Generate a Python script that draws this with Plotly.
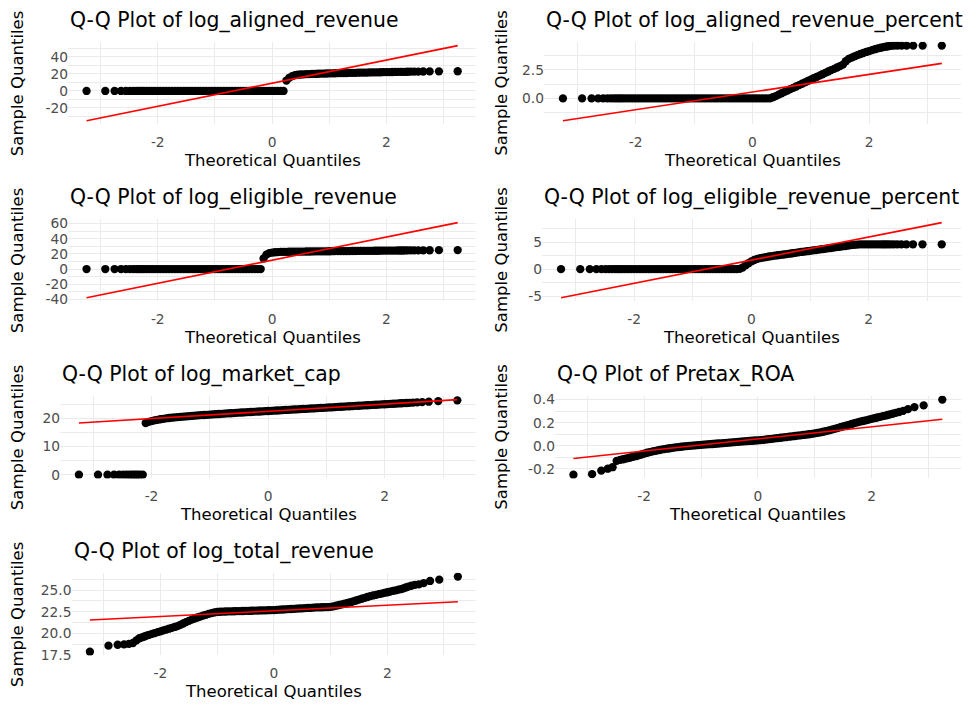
import plotly.graph_objects as go

# ---------------- data ----------------
# theoretical normal quantiles (shared by every panel)
THEORETICAL_Q = [
    -3.245, -2.917, -2.755, -2.642, -2.556, -2.485, -2.425, -2.372, -2.326, -2.284, -2.245,
    -2.20, -2.15, -2.10, -2.05, -2.00, -1.95, -1.90, -1.85, -1.80, -1.75,
    -1.70, -1.65, -1.60, -1.55, -1.50, -1.45, -1.40, -1.35, -1.30, -1.25,
    -1.20, -1.15, -1.10, -1.05, -1.00, -0.95, -0.90, -0.85, -0.80, -0.75,
    -0.70, -0.65, -0.60, -0.55, -0.50, -0.45, -0.40, -0.35, -0.30, -0.25,
    -0.20, -0.15, -0.10, -0.05, 0.00, 0.05, 0.10, 0.15, 0.20, 0.25,
    0.30, 0.35, 0.40, 0.45, 0.50, 0.55, 0.60, 0.65, 0.70, 0.75,
    0.80, 0.85, 0.90, 0.95, 1.00, 1.05, 1.10, 1.15, 1.20, 1.25,
    1.30, 1.35, 1.40, 1.45, 1.50, 1.55, 1.60, 1.65, 1.70, 1.75,
    1.80, 1.85, 1.90, 1.95, 2.00, 2.05, 2.10, 2.15, 2.20,
    2.245, 2.284, 2.326, 2.372, 2.425, 2.485, 2.556, 2.642, 2.755, 2.917, 3.245,
]

# sample quantiles, one list per variable
log_aligned_revenue = [
    0, 0, 0, 0, 0, 0, 0, 0, 0, 0, 0,
    0, 0, 0, 0, 0, 0, 0, 0, 0, 0, 0, 0, 0, 0, 0, 0, 0, 0, 0, 0,
    0, 0, 0, 0, 0, 0, 0, 0, 0, 0, 0, 0, 0, 0, 0, 0, 0, 0, 0, 0,
    0, 0, 0, 0, 0, 0, 0, 0, 0, 12.3, 15.5, 17.5, 18.6, 19.1, 19.4, 19.6, 19.8, 19.95, 20.1, 20.2,
    20.3, 20.4, 20.5, 20.6, 20.7, 20.78, 20.86, 20.94, 21.02, 21.1, 21.18, 21.26, 21.34, 21.42, 21.5, 21.57, 21.64, 21.71, 21.78, 21.85,
    21.92, 21.99, 22.06, 22.13, 22.2, 22.26, 22.32, 22.38, 22.44,
    22.5, 22.55, 22.6, 22.65, 22.7, 22.75, 22.8, 22.9, 23.0, 23.1, 23.2,
]
log_aligned_revenue_percent = [
    0, 0, 0, 0, 0, 0, 0, 0, 0, 0, 0,
    0, 0, 0, 0, 0, 0, 0, 0, 0, 0, 0, 0, 0, 0, 0, 0, 0, 0, 0, 0,
    0, 0, 0, 0, 0, 0, 0, 0, 0, 0, 0, 0, 0, 0, 0, 0, 0, 0, 0, 0,
    0, 0, 0, 0, 0, 0, 0, 0, 0, 0, 0, 0.1, 0.2, 0.33, 0.45, 0.57, 0.69, 0.81, 0.92, 1.04,
    1.16, 1.28, 1.4, 1.52, 1.64, 1.76, 1.87, 1.99, 2.11, 2.23, 2.35, 2.47, 2.58, 2.7, 2.82, 2.95, 3.25, 3.45, 3.57, 3.68,
    3.78, 3.88, 3.97, 4.06, 4.14, 4.22, 4.3, 4.37, 4.43,
    4.48, 4.52, 4.56, 4.59, 4.61, 4.615, 4.615, 4.615, 4.615, 4.615, 4.615,
]
log_eligible_revenue = [
    0, 0, 0, 0, 0, 0, 0, 0, 0, 0, 0,
    0, 0, 0, 0, 0, 0, 0, 0, 0, 0, 0, 0, 0, 0, 0, 0, 0, 0, 0, 0,
    0, 0, 0, 0, 0, 0, 0, 0, 0, 0, 0, 0, 0, 0, 0, 0, 0, 0, 0, 0,
    0, 14.0, 19.0, 21.0, 21.8, 22.2, 22.45, 22.6, 22.7, 22.78, 22.85, 22.9, 22.95, 23.0, 23.05, 23.1, 23.15, 23.2, 23.25, 23.3,
    23.35, 23.39, 23.43, 23.47, 23.51, 23.55, 23.59, 23.63, 23.67, 23.71, 23.75, 23.79, 23.83, 23.87, 23.91, 23.95, 23.99, 24.03, 24.07, 24.11,
    24.15, 24.19, 24.23, 24.27, 24.31, 24.35, 24.39, 24.43, 24.47,
    24.5, 24.53, 24.56, 24.6, 24.64, 24.68, 24.72, 24.78, 24.85, 24.92, 25.0,
]
log_eligible_revenue_percent = [
    0, 0, 0, 0, 0, 0, 0, 0, 0, 0, 0,
    0, 0, 0, 0, 0, 0, 0, 0, 0, 0, 0, 0, 0, 0, 0, 0, 0, 0, 0, 0,
    0, 0, 0, 0, 0, 0, 0, 0, 0, 0, 0, 0, 0, 0, 0, 0, 0, 0, 0, 0,
    0.05, 0.3, 0.7, 1.1, 1.45, 1.7, 1.9, 2.05, 2.15, 2.25, 2.35, 2.43, 2.5, 2.58, 2.65, 2.72, 2.8, 2.87, 2.95, 3.02,
    3.12, 3.19, 3.26, 3.33, 3.4, 3.48, 3.55, 3.63, 3.7, 3.78, 3.85, 3.93, 4.0, 4.08, 4.15, 4.23, 4.3, 4.38, 4.45, 4.52,
    4.57, 4.6, 4.61, 4.615, 4.615, 4.615, 4.615, 4.615, 4.615,
    4.615, 4.615, 4.615, 4.615, 4.615, 4.615, 4.615, 4.615, 4.615, 4.615, 4.615,
]
log_market_cap = [
    0, 0, 0, 0, 0, 0, 0, 0, 0, 0, 0,
    0, 0, 18.4, 18.8, 19.1, 19.35, 19.55, 19.75, 19.9, 20.05, 20.2, 20.3, 20.4, 20.5, 20.6, 20.7, 20.8, 20.88, 20.96, 21.04,
    21.12, 21.2, 21.27, 21.34, 21.41, 21.48, 21.55, 21.62, 21.69, 21.76, 21.83, 21.9, 21.97, 22.04, 22.1, 22.16, 22.22, 22.28, 22.34, 22.4,
    22.46, 22.52, 22.58, 22.64, 22.7, 22.76, 22.82, 22.88, 22.94, 23.0, 23.06, 23.12, 23.18, 23.24, 23.3, 23.36, 23.42, 23.48, 23.54, 23.6,
    23.66, 23.72, 23.78, 23.84, 23.9, 23.96, 24.02, 24.08, 24.14, 24.2, 24.26, 24.32, 24.38, 24.44, 24.5, 24.56, 24.62, 24.68, 24.74, 24.8,
    24.86, 24.92, 24.98, 25.04, 25.1, 25.16, 25.22, 25.28, 25.34,
    25.4, 25.45, 25.5, 25.55, 25.6, 25.68, 25.76, 25.86, 26.0, 26.2, 26.5,
]
Pretax_ROA = [
    -0.25, -0.245, -0.215, -0.198, -0.185, -0.13, -0.122, -0.116, -0.111, -0.106, -0.101,
    -0.096, -0.09, -0.083, -0.075, -0.067, -0.06, -0.054, -0.048, -0.043, -0.038, -0.033, -0.029, -0.025, -0.021, -0.017, -0.014, -0.011, -0.008, -0.005, -0.002,
    0.0, 0.002, 0.004, 0.006, 0.008, 0.01, 0.012, 0.014, 0.016, 0.018, 0.02, 0.022, 0.024, 0.026, 0.028, 0.03, 0.032, 0.034, 0.036, 0.038,
    0.04, 0.042, 0.044, 0.046, 0.048, 0.05, 0.052, 0.055, 0.058, 0.061, 0.064, 0.067, 0.07, 0.073, 0.076, 0.079, 0.082, 0.085, 0.088, 0.091,
    0.094, 0.097, 0.1, 0.104, 0.108, 0.112, 0.117, 0.122, 0.128, 0.134, 0.14, 0.147, 0.154, 0.161, 0.168, 0.175, 0.182, 0.189, 0.196, 0.203,
    0.209, 0.215, 0.221, 0.227, 0.233, 0.239, 0.245, 0.251, 0.257,
    0.262, 0.267, 0.272, 0.278, 0.285, 0.293, 0.303, 0.318, 0.335, 0.35, 0.40,
]
log_total_revenue = [
    17.9, 18.6, 18.7, 18.75, 18.8, 18.9, 19.2, 19.45, 19.55, 19.65, 19.75,
    19.85, 19.95, 20.05, 20.15, 20.25, 20.35, 20.45, 20.55, 20.65, 20.75, 20.85, 21.0, 21.15, 21.3, 21.45, 21.6, 21.72, 21.84, 21.95, 22.05,
    22.15, 22.25, 22.35, 22.42, 22.48, 22.5, 22.52, 22.53, 22.54, 22.55, 22.56, 22.57, 22.58, 22.59, 22.6, 22.61, 22.62, 22.63, 22.64, 22.65,
    22.66, 22.67, 22.68, 22.69, 22.7, 22.72, 22.74, 22.76, 22.78, 22.8, 22.82, 22.84, 22.86, 22.88, 22.9, 22.92, 22.94, 22.96, 22.98, 23.0,
    23.01, 23.02, 23.03, 23.04, 23.06, 23.12, 23.2, 23.28, 23.36, 23.44, 23.52, 23.6, 23.7, 23.8, 23.9, 24.0, 24.1, 24.2, 24.3, 24.38,
    24.45, 24.53, 24.6, 24.68, 24.75, 24.82, 24.9, 24.97, 25.05,
    25.12, 25.2, 25.3, 25.4, 25.5, 25.6, 25.65, 25.8, 26.05, 26.2, 26.55,
]

# reference (qq) line end points, x then y per variable
QQ_LINE_X = [-3.245, 3.245]
line_aligned_revenue = [-35.0, 53.4]
line_aligned_revenue_percent = [-1.95, 3.06]
line_eligible_revenue = [-37.8, 61.3]
line_eligible_revenue_percent = [-5.3, 8.64]
line_market_cap = [18.4, 26.75]
line_Pretax_ROA = [-0.11, 0.23]
line_total_revenue = [21.56, 23.66]

VARIABLES = ["log_aligned_revenue", "log_aligned_revenue_percent", "log_eligible_revenue",
             "log_eligible_revenue_percent", "log_market_cap", "Pretax_ROA", "log_total_revenue"]
SAMPLES = [log_aligned_revenue, log_aligned_revenue_percent, log_eligible_revenue,
           log_eligible_revenue_percent, log_market_cap, Pretax_ROA, log_total_revenue]
LINES = [line_aligned_revenue, line_aligned_revenue_percent, line_eligible_revenue,
         line_eligible_revenue_percent, line_market_cap, line_Pretax_ROA, line_total_revenue]

X_TICKS = [-2, 0, 2]
X_TICK_LABELS = ["-2", "0", "2"]
X_MINOR = [-3, -1, 1, 3]
Y_TICKS = [[-20, 0, 20, 40], [0, 2.5], [-40, -20, 0, 20, 40, 60], [-5, 0, 5],
           [0, 10, 20], [-0.2, 0, 0.2, 0.4], [17.5, 20, 22.5, 25]]
Y_TICK_LABELS = [["-20", "0", "20", "40"], ["0.0", "2.5"], ["-40", "-20", "0", "20", "40", "60"],
                 ["-5", "0", "5"], ["0", "10", "20"], ["-0.2", "0.0", "0.2", "0.4"],
                 ["17.5", "20.0", "22.5", "25.0"]]
Y_MINOR = [[-30, -10, 10, 30, 50], [-1.25, 1.25, 3.75], [-30, -10, 10, 30, 50], [-2.5, 2.5, 7.5],
           [5, 15, 25], [-0.1, 0.1, 0.3], [18.75, 21.25, 23.75, 26.25]]

# ---------------- layout ----------------
W, H = 969, 720
FONT = "DejaVu Sans"
GRID = "#EBEBEB"
CELL_LEFT = [0, 484.5]
CELL_TOP = [0, 180, 360, 540]
PANEL_LEFT = [68, 544, 68, 542, 60, 555, 71.5]
PANEL_RIGHT = [476.25, 960.75]
PANEL_TOP_OFF, PANEL_BOT_OFF = 38.5, 122.5


def expand(lo, hi, f=0.05):
    d = (hi - lo) * f
    return [lo - d, hi + d]


fig = go.Figure()
annotations = []
layout_axes = {}
xr = expand(min(THEORETICAL_Q + QQ_LINE_X), max(THEORETICAL_Q + QQ_LINE_X))

for i, (name, ys, ln) in enumerate(zip(VARIABLES, SAMPLES, LINES)):
    row, col = divmod(i, 2)
    k = "" if i == 0 else str(i + 1)
    left = PANEL_LEFT[i]
    right = PANEL_RIGHT[col]
    top = CELL_TOP[row] + PANEL_TOP_OFF
    bot = CELL_TOP[row] + PANEL_BOT_OFF

    fig.add_trace(go.Scatter(x=THEORETICAL_Q, y=ys, mode="markers",
                             marker=dict(color="black", size=8.3, line=dict(width=0)),
                             xaxis="x" + k, yaxis="y" + k, showlegend=False, hoverinfo="skip"))
    fig.add_trace(go.Scatter(x=QQ_LINE_X, y=ln, mode="lines",
                             line=dict(color="#FF0000", width=1.6),
                             xaxis="x" + k, yaxis="y" + k, showlegend=False, hoverinfo="skip"))

    yr = expand(min(ys + ln), max(ys + ln))
    common = dict(showline=False, zeroline=False, showgrid=True, gridcolor=GRID, gridwidth=1.4,
                  tickcolor="rgba(0,0,0,0)",
                  tickfont=dict(family=FONT, size=13.8, color="#4D4D4D"), tickmode="array")
    layout_axes["xaxis" + k] = dict(common, domain=[left / W, right / W], anchor="y" + k,
                                    range=xr, tickvals=X_TICKS, ticktext=X_TICK_LABELS,
                                    ticks="outside", ticklen=5,
                                    minor=dict(tickvals=X_MINOR, showgrid=True, gridcolor=GRID,
                                               gridwidth=0.8, ticks=""))
    layout_axes["yaxis" + k] = dict(common, domain=[1 - bot / H, 1 - top / H], anchor="x" + k,
                                    range=yr, tickvals=Y_TICKS[i], ticktext=Y_TICK_LABELS[i],
                                    ticks="", ticklabelstandoff=-1,
                                    minor=dict(tickvals=Y_MINOR[i], showgrid=True, gridcolor=GRID,
                                               gridwidth=0.8, ticks=""))

    # title
    annotations.append(dict(text="Q-Q Plot of " + name, xref="paper", yref="paper",
                            x=left / W, y=1 - (CELL_TOP[row] + 16.5) / H, xanchor="left", yanchor="middle",
                            showarrow=False, font=dict(family=FONT, size=20.4, color="black")))
    # x axis title
    annotations.append(dict(text="Theoretical Quantiles", xref="paper", yref="paper",
                            x=(left + right) / 2 / W, y=1 - (CELL_TOP[row] + 159) / H,
                            xanchor="center", yanchor="middle", showarrow=False,
                            font=dict(family=FONT, size=16.5, color="black")))
    # y axis title
    annotations.append(dict(text="Sample Quantiles", xref="paper", yref="paper", textangle=-90,
                            x=(CELL_LEFT[col] + 17) / W, y=1 - (top + bot) / 2 / H,
                            xanchor="center", yanchor="middle", showarrow=False,
                            font=dict(family=FONT, size=16.5, color="black")))

fig.update_layout(width=W, height=H, margin=dict(l=0, r=0, t=0, b=0),
                  paper_bgcolor="white", plot_bgcolor="white",
                  font=dict(family=FONT), annotations=annotations, **layout_axes)

fig.write_html("out.html", config={"displayModeBar": False},
               post_script="document.body.style.margin='0';document.body.style.overflow='hidden';")
